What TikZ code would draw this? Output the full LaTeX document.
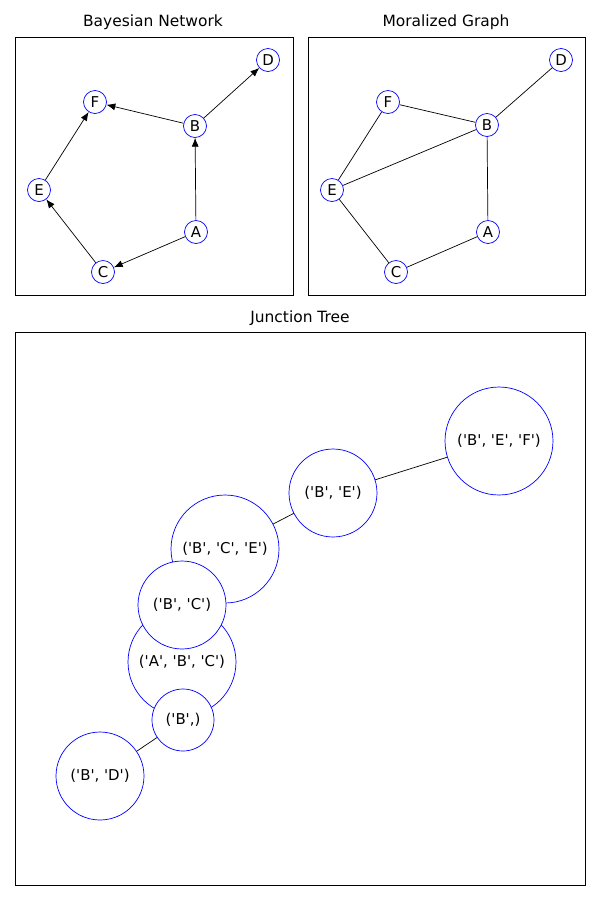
\documentclass[tikz,border=0pt]{standalone}
\usepackage{fontspec}
\setmainfont{DejaVu Sans}
\newfontfamily\jtfont{DejaVu Sans}
\usetikzlibrary{arrows.meta}
\pgfdeclarelayer{background}
\pgfsetlayers{background,main}

\begin{document}
\begin{tikzpicture}[x=0.02cm, y=-0.02cm,
            vnode/.style={circle, draw=blue, fill=white, minimum size=0.46cm, inner sep=0pt, font=\fontsize{8.5}{10}\selectfont},
            clique/.style={circle, draw=blue, fill=white, inner sep=0pt, font=\jtfont\fontsize{8.5}{10}\selectfont},
            arrow/.style={-{Latex[length=5pt, width=4pt]}},
            panel/.style={draw, thin},
            ttl/.style={font=\fontsize{8.8}{10}\selectfont}
        ]
            \useasboundingbox (0,0) rectangle (600,900);

            % Panels
            \draw[panel] (15,37) rectangle (293,295);
            \draw[panel] (308,37) rectangle (585,295);
            \draw[panel] (15,332) rectangle (585,885);
            \node[ttl] (t1) at (153,22) {Bayesian Network};
            \node[ttl] (t2) at (446,22) {Moralized Graph};
            \node[ttl] (t3) at (300,318) {Junction Tree};

            % Bayesian network
            \node[vnode] (bd) at (268,60) {D};
            \node[vnode] (bf) at (95,102) {F};
            \node[vnode] (bb) at (195,126) {B};
            \node[vnode] (be) at (39,190) {E};
            \node[vnode] (ba) at (196,232) {A};
            \node[vnode] (bc) at (103,272) {C};
            \draw[arrow] (bb) -- (bd);
            \draw[arrow] (bb) -- (bf);
            \draw[arrow] (ba) -- (bb);
            \draw[arrow] (ba) -- (bc);
            \draw[arrow] (bc) -- (be);
            \draw[arrow] (be) -- (bf);

            % Moralized graph
            \node[vnode] (md) at (561,60) {D};
            \node[vnode] (mf) at (388,102) {F};
            \node[vnode] (mb) at (487,125) {B};
            \node[vnode] (me) at (332,190) {E};
            \node[vnode] (ma) at (488,232) {A};
            \node[vnode] (mc) at (396,272) {C};
            \draw (mf) -- (mb) -- (md);
            \draw (mf) -- (me) -- (mb);
            \draw (me) -- (mc) -- (ma) -- (mb);

            % Junction tree
            \node[clique, minimum size=2.16cm] (bef) at (499,441) {('B', 'E', 'F')};
            \node[clique, minimum size=1.76cm] (bex) at (333,493) {('B', 'E')};
            \node[clique, minimum size=2.16cm] (bce) at (225,549) {('B', 'C', 'E')};
            \node[clique, minimum size=2.16cm] (abc) at (182,662) {('A', 'B', 'C')};
            \node[clique, minimum size=1.76cm] (bcx) at (182,605) {('B', 'C')};
            \node[clique, minimum size=1.24cm] (bx) at (183,720) {('B',)};
            \node[clique, minimum size=1.76cm] (bdx) at (100,776) {('B', 'D')};
            \begin{pgfonlayer}{background}
                \fill[white] (0,0) rectangle (600,900);
                \draw (bef.center) -- (bex.center) -- (bce.center) -- (bcx.center) -- (abc.center) -- (bx.center) -- (bdx.center);
            \end{pgfonlayer}
        \end{tikzpicture}
\end{document}
